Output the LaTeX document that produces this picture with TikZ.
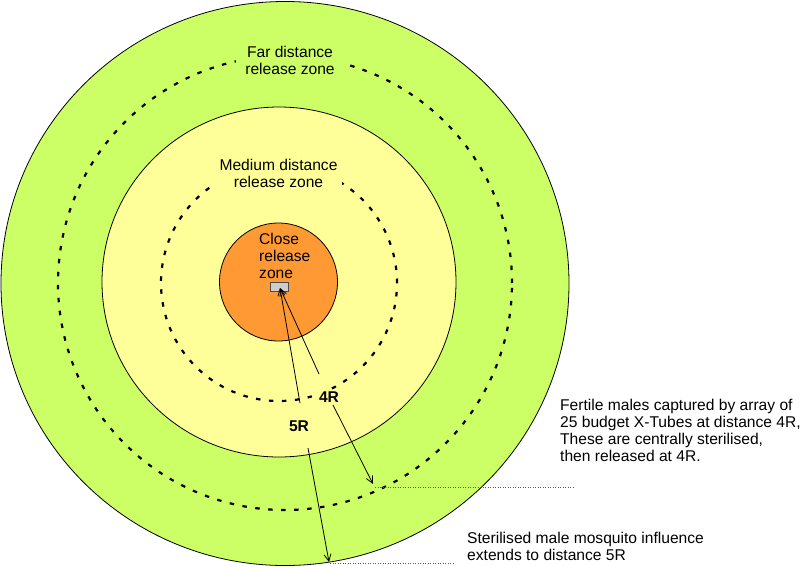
\documentclass[tikz,border=0pt]{standalone}
\usepackage{fontspec}
\setmainfont{Liberation Sans}
\usetikzlibrary{arrows.meta}
\definecolor{zgreen}{RGB}{204,255,102}
\definecolor{zyellow}{RGB}{255,255,153}
\definecolor{zorange}{RGB}{255,153,51}
\definecolor{zgray}{RGB}{205,205,205}
\begin{document}
\begin{tikzpicture}[x=1pt,y=-1pt,
  zone/.style={draw=black,line width=0.8pt},
  ring/.style={line width=2.2pt,dash pattern=on 4.5pt off 8.5pt},
  lbl/.style={font=\fontsize{15.6}{17}\selectfont,align=center,inner ysep=1pt},
  note/.style={font=\fontsize{15.6}{17}\selectfont,align=left,inner sep=0pt,anchor=west},
  rlabel/.style={font=\fontsize{15.6}{17}\selectfont\bfseries,fill=zyellow,inner sep=1.5pt},
  arr/.style={line width=0.8pt,-{Straight Barb[length=7pt,width=7pt]}},
  guide/.style={line width=0.6pt,gray!70!black,dash pattern=on 1pt off 1.5pt}]
\useasboundingbox (0,0) rectangle (800,566);
\fill[white] (0,0) rectangle (800,566);
\begin{scope}
\clip (0,0) rectangle (800,566);
\draw[zone,fill=zgreen] (285,283.5) ellipse [x radius=284pt, y radius=282pt];
\end{scope}
\draw[ring] (285,283) circle[radius=227pt];
\draw[zone,fill=zyellow] (279,282) ellipse[x radius=177pt,y radius=175pt];
\draw[ring] (279,283) circle[radius=118pt];
\draw[zone,fill=zorange] (278.5,282) circle[radius=59pt];

\node[lbl,fill=zgreen,inner xsep=9pt] (far) at (290,60.5) {Far distance\\release zone};
\node[lbl,fill=zyellow,inner xsep=5pt] (med) at (278.5,173) {Medium distance\\release zone};
\node[note] (close) at (259,255.5) {Close\\release\\zone};

\node[draw=black!70,fill=zgray,line width=0.6pt,minimum width=18pt,minimum height=9pt,inner sep=0pt] (trap) at (279,286.5) {};
\coordinate (tip) at (280,288);
\node[rlabel] (r4) at (329,397) {4R};
\node[rlabel] (r5) at (299,426) {5R};

\coordinate (u4) at (319,374);
\coordinate (u5) at (300,403);
\draw[arr] (u4) -- (tip);
\draw[arr] (u5) -- (tip);
\coordinate (s4) at (333,405);
\coordinate (e4) at (373,484);
\draw[arr] (s4) -- (e4);
\coordinate (s5) at (308,448);
\coordinate (e5) at (329,562);
\draw[arr] (s5) -- (e5);
\coordinate (g4) at (375,487);
\coordinate (g4e) at (573,487);
\draw[guide] (g4) -- (g4e);
\coordinate (g5) at (330,563);
\coordinate (g5e) at (455,563);
\draw[guide] (g5) -- (g5e);

\node[note] (n4) at (560,430.5) {Fertile males captured by array of\\25 budget X-Tubes at distance 4R,\\These are centrally sterilised,\\then released at 4R.};
\node[note] (n5) at (467,546) {Sterilised male mosquito influence\\extends to distance 5R};
\end{tikzpicture}
\end{document}
